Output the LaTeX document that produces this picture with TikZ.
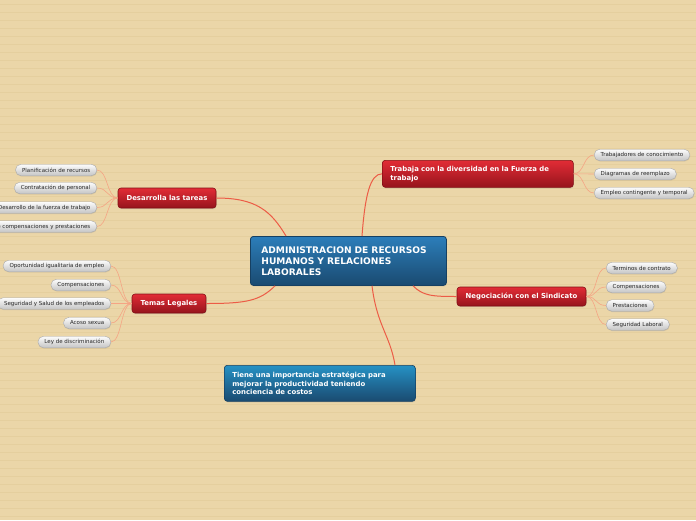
\documentclass[tikz,border=0pt]{standalone}
\usepackage{fontspec}
\setmainfont{DejaVu Sans}
\usetikzlibrary{calc,shadows}
\definecolor{paper}{RGB}{235,214,168}
\definecolor{paperline}{RGB}{229,207,158}
\definecolor{redtop}{RGB}{226,44,54}
\definecolor{redbot}{RGB}{150,20,28}
\definecolor{redrim}{RGB}{130,14,20}
\definecolor{bluetop}{RGB}{44,126,186}
\definecolor{bluebot}{RGB}{26,74,112}
\definecolor{bluerim}{RGB}{22,64,98}
\definecolor{leaftop}{RGB}{252,252,252}
\definecolor{leafbot}{RGB}{196,196,196}
\definecolor{leafrim}{RGB}{170,170,170}
\definecolor{branch}{RGB}{236,92,70}
\definecolor{twig}{RGB}{245,164,132}

\begin{document}
\begin{tikzpicture}[x=1pt,y=-1pt,
  every node/.style={inner ysep=0pt},
  root/.style={draw=bluerim,line width=0.8pt,rounded corners=3pt,top color=bluetop,bottom color=bluebot,
    text=white,font=\bfseries\fontsize{9.1}{11}\selectfont,align=left,drop shadow={opacity=0.25,shadow xshift=0.5pt,shadow yshift=-1pt}},
  topic/.style={draw=redrim,line width=0.6pt,rounded corners=3pt,top color=redtop,bottom color=redbot,
    text=white,font=\bfseries\fontsize{6.9}{9}\selectfont,drop shadow={opacity=0.25,shadow xshift=0.5pt,shadow yshift=-1pt}},
  note/.style={draw=bluerim,line width=0.6pt,rounded corners=3pt,top color=bluetop!85!cyan,bottom color=bluebot,
    text=white,font=\bfseries\fontsize{6.9}{8.6}\selectfont,align=left,drop shadow={opacity=0.25,shadow xshift=0.5pt,shadow yshift=-1pt}},
  leaf/.style={draw=leafrim,line width=0.4pt,rounded corners=5.5pt,top color=leaftop,bottom color=leafbot,
    text=black!85,font=\fontsize{5.5}{6}\selectfont,minimum height=11.5pt,inner xsep=6.5pt,
    drop shadow={opacity=0.2,shadow xshift=0.4pt,shadow yshift=-0.8pt}},
  limb/.style={draw=branch,line width=1pt},
  twig/.style={draw=twig,line width=0.6pt}]
  \useasboundingbox (0,0) rectangle (696,520);
  \fill[paper] (0,0) rectangle (696,520);
  \foreach \y in {4,12,...,516}
    \draw[paperline,line width=0.5pt] (0,\y) -- (696,\y);

  \node[root,anchor=north west,text width=174pt,inner xsep=11pt,minimum height=49pt] (central) at (250,236)
    {ADMINISTRACION DE RECURSOS\\HUMANOS Y RELACIONES\\LABORALES};
  \node[topic,minimum width=98pt,minimum height=20pt] (desa) at (167,198) {Desarrolla las tareas};
  \node[topic,minimum width=74pt,minimum height=19pt] (temas) at (169,303.5) {Temas Legales};
  \node[topic,anchor=north west,text width=175pt,inner xsep=8pt,minimum height=27pt,align=left] (trab) at (382,160)
    {Trabaja con la diversidad en la Fuerza de\\trabajo};
  \node[topic,minimum width=129pt,minimum height=19pt] (nego) at (521.5,296.5) {Negociación con el Sindicato};
  \node[note,anchor=north west,text width=175pt,inner xsep=8pt,minimum height=36pt] (tiene) at (224,365)
    {Tiene una importancia estratégica para\\mejorar la productividad teniendo\\conciencia de costos};

  \draw[limb] (desa.east) .. controls +(40,0) and +(-15,-25) .. ($(central.north west)+(36,0)$);
  \draw[limb] (temas.east) .. controls +(40,0) and +(-15,15) .. ($(central.south west)+(25,0)$);
  \draw[limb] ($(central.north west)+(112,0)$) .. controls +(3,-40) and +(-12,0) .. (trab.west);
  \draw[limb] ($(central.south west)+(163,0)$) .. controls +(10,10) and +(-25,0) .. (nego.west);
  \draw[limb] ($(central.south west)+(122,0)$) .. controls +(5,40) and +(-5,-30) .. ($(tiene.north west)+(171,0)$);

  \foreach \y/\t [count=\i] in {170/Planificación de recursos,188/Contratación de personal,
      207.5/Desarrollo de la fuerza de trabajo,226.5/Administración de compensaciones y prestaciones} {
    \node[leaf,anchor=east] (d\i) at (97,\y) {\t};
    \draw[twig] (desa.west) .. controls +(-11,0) and +(11,0) .. (d\i.east);
  }
  \foreach \y/\t [count=\i] in {266/Oportunidad igualitaria de empleo,285/Compensaciones,
      303.5/Seguridad y Salud de los empleados,323/Acoso sexua,342/Ley de discriminación} {
    \node[leaf,anchor=east] (l\i) at (111,\y) {\t};
    \draw[twig] (temas.west) .. controls +(-11,0) and +(11,0) .. (l\i.east);
  }
  \foreach \y/\t [count=\i] in {155/Trabajadores de conocimiento,174/Diagramas de reemplazo,
      193/Empleo contingente y temporal} {
    \node[leaf,anchor=west] (t\i) at (594,\y) {\t};
    \draw[twig] (trab.east) .. controls +(11,0) and +(-11,0) .. (t\i.west);
  }
  \foreach \y/\t [count=\i] in {268/Terminos de contrato,287/Compensaciones,305.5/Prestaciones,324.5/Seguridad Laboral} {
    \node[leaf,anchor=west] (n\i) at (606,\y) {\t};
    \draw[twig] (nego.east) .. controls +(11,0) and +(-11,0) .. (n\i.west);
  }
\end{tikzpicture}
\end{document}
